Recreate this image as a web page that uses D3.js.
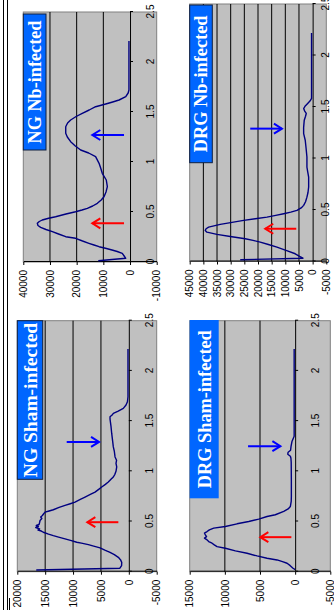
<!DOCTYPE html>
<html><head><meta charset="utf-8">
<script src="https://cdn.jsdelivr.net/npm/d3@7"></script>
<style>html,body{margin:0;padding:0;background:#fff;} svg{display:block}</style>
</head><body>
<svg id="c" width="334" height="610"></svg>
<script>
// ---------- DATA ----------
const xTicks = [0, 0.5, 1, 1.5, 2, 2.5];
const titles = ["NG Sham-infected", "NG Nb-infected", "DRG Sham-infected", "DRG Nb-infected"];

const ngShamTicks = [-5000, 0, 5000, 10000, 15000, 20000];
const ngNbTicks = [-10000, 0, 10000, 20000, 30000, 40000];
const drgShamTicks = [-5000, 0, 5000, 10000, 15000];
const drgNbTicks = [-5000, 0, 5000, 10000, 15000, 20000, 25000, 30000, 35000, 40000, 45000];

const ngShamData = [[0.017,16600],[0.035,1600],[0.06,1300],[0.093,1270],[0.12,1500],[0.143,1880],[0.17,2600],[0.193,3370],[0.215,4300],[0.237,5160],[0.255,6300],[0.27,7260],[0.285,8500],[0.293,9340],[0.31,10300],[0.327,11440],[0.345,12600],[0.36,13540],[0.375,14400],[0.393,15330],[0.405,15700],[0.415,16300],[0.427,16000],[0.44,16700],[0.45,16200],[0.46,16600],[0.47,16100],[0.49,16000],[0.51,15920],[0.53,15600],[0.545,15800],[0.56,15500],[0.575,15300],[0.593,15030],[0.605,14300],[0.617,13540],[0.64,12500],[0.66,11440],[0.677,10500],[0.693,9650],[0.72,8700],[0.743,7850],[0.77,6900],[0.793,6060],[0.82,5400],[0.843,4860],[0.87,4200],[0.893,3680],[0.92,3200],[0.943,2780],[0.97,2500],[1.0,2300],[1.043,2170],[1.08,2300],[1.11,2200],[1.143,2470],[1.2,2600],[1.243,2780],[1.3,2900],[1.377,3070],[1.45,3200],[1.52,3370],[1.543,3370],[1.56,3000],[1.577,2780],[1.6,1900],[1.627,990],[1.66,500],[1.693,250],[1.743,150],[2.217,150]];

const ngNbData = [[0.013,11900],[0.037,1600],[0.06,2200],[0.087,2900],[0.105,4800],[0.12,6750],[0.137,9200],[0.153,11600],[0.17,13500],[0.187,15400],[0.21,17800],[0.237,20400],[0.253,24100],[0.28,26800],[0.303,29100],[0.325,31500],[0.347,33500],[0.365,34500],[0.387,34750],[0.405,34000],[0.42,32900],[0.437,30500],[0.453,27900],[0.48,24000],[0.503,20400],[0.52,18000],[0.537,16000],[0.56,14000],[0.587,12250],[0.62,10800],[0.653,9750],[0.7,9000],[0.753,8500],[0.82,8900],[0.887,10400],[0.94,11000],[0.987,11600],[1.053,12900],[1.09,15500],[1.12,18500],[1.16,20500],[1.203,22250],[1.25,23500],[1.287,24100],[1.353,24100],[1.39,23400],[1.42,22250],[1.455,20200],[1.487,17900],[1.52,15300],[1.553,12900],[1.58,9100],[1.6,6500],[1.62,4100],[1.653,1600],[1.69,700],[1.72,400],[2.21,400]];

const drgShamData = [[0.02,0],[0.034,300],[0.06,700],[0.084,1150],[0.1,1800],[0.117,2570],[0.134,4000],[0.157,5420],[0.184,6840],[0.207,8500],[0.234,9930],[0.25,11110],[0.267,11500],[0.284,11820],[0.3,12300],[0.317,12530],[0.335,12900],[0.35,12600],[0.367,12770],[0.385,12900],[0.4,12530],[0.417,12200],[0.434,11580],[0.45,9930],[0.477,8260],[0.5,6600],[0.524,5180],[0.55,4000],[0.567,2820],[0.6,1620],[0.625,1000],[0.65,680],[0.7,560],[0.75,540],[0.9,540],[1.087,560],[1.13,600],[1.15,680],[1.17,1050],[1.19,1000],[1.21,650],[1.25,580],[1.3,440],[1.35,140],[2.217,140]];

const drgNbData = [[0.017,26500],[0.032,3550],[0.05,4800],[0.075,6370],[0.105,9500],[0.139,13070],[0.165,16200],[0.188,19180],[0.205,21800],[0.221,24670],[0.243,30160],[0.263,35030],[0.285,38690],[0.302,39310],[0.318,39000],[0.334,38070],[0.36,33820],[0.38,29500],[0.399,25260],[0.415,21000],[0.431,16730],[0.448,13500],[0.464,10610],[0.48,8000],[0.496,5750],[0.52,4200],[0.545,3290],[0.58,2600],[0.625,2090],[0.67,1700],[0.723,1460],[0.82,1460],[0.87,1800],[0.917,2090],[1.015,2090],[1.1,2400],[1.177,2710],[1.242,3290],[1.3,3300],[1.372,3070],[1.41,2600],[1.437,2340],[1.46,2900],[1.485,3290],[1.51,2700],[1.534,1830],[1.56,900],[1.583,400],[1.62,400],[2.218,400]];

// arrows: [x, tailValue, headValue]
const ngShamArrows = [[0.493,1880,7440],[1.293,11140,5340]];
const ngNbArrows = [[0.387,2250,14125],[1.27,2250,14125]];
const drgShamArrows = [[0.344,540,4950],[1.25,6700,2100]];
const drgNbArrows = [[0.318,6000,17350],[1.29,22840,11240]];

// ---------- LAYOUT (landscape coords, 610 x 334, rotated -90deg) ----------
const panels = [
  {title: titles[0], data: ngShamData, ticks: ngShamTicks, grid: [5000,10000,15000], arrows: ngShamArrows,
   lx0: 38.3, lx1: 289.3, ly0: 17.3, ly1: 156.7, xlab: 150, fs: 19.5,
   box: {x: 130.7, y: 17.3, w: 158.6, h: 25.4, border: true}},
  {title: titles[1], data: ngNbData, ticks: ngNbTicks, grid: [10000,20000,30000], arrows: ngNbArrows,
   lx0: 348, lx1: 598, ly0: 23.3, ly1: 156.7, xlab: 150.5, fs: 18.2,
   box: {x: 460, y: 23.3, w: 136, h: 22.7, border: true}},
  {title: titles[2], data: drgShamData, ticks: drgShamTicks, grid: [5000,10000], arrows: drgShamArrows,
   lx0: 38.3, lx1: 289.3, ly0: 189.7, ly1: 330.3, xlab: 316, fs: 18.3,
   box: {x: 111.7, y: 189.7, w: 178.3, h: 29, border: false}},
  {title: titles[3], data: drgNbData, ticks: drgNbTicks, grid: [5000,10000,15000,20000,25000,30000,35000,40000], arrows: drgNbArrows,
   lx0: 348.5, lx1: 606, ly0: 189.7, ly1: 326.3, xlab: 326, fs: 18.3,
   box: {x: 447.3, y: 189.7, w: 157.7, h: 22.6, border: true}}
];

const svg = d3.select("#c");
svg.append("rect").attr("width",334).attr("height",610).attr("fill","#fff");
const root = svg.append("g").attr("transform","translate(0,610) rotate(-90)");

// frame lines
root.append("line").attr("x1",0).attr("x2",610).attr("y1",3.5).attr("y2",3.5).attr("stroke","#000").attr("stroke-width",1);
root.append("line").attr("x1",0).attr("x2",610).attr("y1",7.5).attr("y2",7.5).attr("stroke","#000").attr("stroke-width",1);
root.append("line").attr("x1",0).attr("x2",12).attr("y1",9.5).attr("y2",9.5).attr("stroke","#000").attr("stroke-width",1);

const tickFont = "'Liberation Sans Narrow','Arial Narrow','Liberation Sans',Arial,sans-serif";

panels.forEach(p => {
  const ymin = d3.min(p.ticks), ymax = d3.max(p.ticks);
  const x = d3.scaleLinear().domain([0,2.5]).range([p.lx0, p.lx1]);
  const y = d3.scaleLinear().domain([ymin, ymax]).range([p.ly1, p.ly0]);
  const g = root.append("g");

  g.append("rect").attr("x",p.lx0).attr("y",p.ly0).attr("width",p.lx1-p.lx0).attr("height",p.ly1-p.ly0)
    .attr("fill","#c0c0c0").attr("stroke","#808080").attr("stroke-width",1);

  g.selectAll("line.grid").data(p.grid).enter().append("line").attr("class","grid")
    .attr("x1",p.lx0).attr("x2",p.lx1).attr("y1",d=>y(d)).attr("y2",d=>y(d))
    .attr("stroke","#000").attr("stroke-width",1);

  // value axis (left)
  const ya = g.append("g").attr("transform",`translate(${p.lx0},0)`)
    .call(d3.axisLeft(y).tickValues(p.ticks).tickSize(3).tickSizeOuter(0).tickPadding(5).tickFormat(d=>String(d)));
  ya.select(".domain").attr("stroke","#000");
  ya.selectAll("text").attr("font-family",tickFont).attr("font-size","10px").attr("fill","#000");

  // category axis at value 0
  const xa = g.append("g").attr("transform",`translate(0,${y(0)})`)
    .call(d3.axisBottom(x).tickValues(xTicks).tickSize(3).tickSizeOuter(0).tickFormat(d=>String(d)));
  xa.select(".domain").attr("stroke","#000");
  xa.selectAll("text").attr("y", p.xlab - y(0)).attr("dy","0.35em")
    .attr("font-family",tickFont).attr("font-size","10px").attr("fill","#000");

  // curve
  g.append("path").datum(p.data)
    .attr("d", d3.line().x(d=>x(d[0])).y(d=>y(d[1])))
    .attr("fill","none").attr("stroke","#000080").attr("stroke-width",1.4).attr("stroke-linejoin","round");

  // arrows
  const cols = ["#ff0000","#0000ff"];
  p.arrows.forEach((a,i) => {
    const ax = x(a[0]), y1 = y(a[1]), y2 = y(a[2]);
    const dir = y2 < y1 ? 1 : -1;
    const ag = g.append("g").attr("stroke",cols[i]).attr("stroke-width",2).attr("fill","none").attr("stroke-linecap","butt");
    ag.append("line").attr("x1",ax).attr("x2",ax).attr("y1",y1).attr("y2",y2);
    ag.append("path").attr("d",`M${ax-5},${y2+dir*8} L${ax},${y2} L${ax+5},${y2+dir*8}`);
  });

  // title box
  const b = p.box;
  g.append("rect").attr("x",b.x).attr("y",b.y).attr("width",b.w).attr("height",b.h)
    .attr("fill","#0066ff").attr("stroke", b.border ? "#102040" : "none").attr("stroke-width",1);
  g.append("text").attr("x",b.x+b.w/2).attr("y",b.y+b.h/2).attr("dy","0.35em")
    .attr("text-anchor","middle").attr("fill","#fff")
    .attr("font-family","'Liberation Serif','Times New Roman',serif").attr("font-weight","bold")
    .attr("font-size",p.fs+"px").text(p.title);
});
</script>
</body></html>
